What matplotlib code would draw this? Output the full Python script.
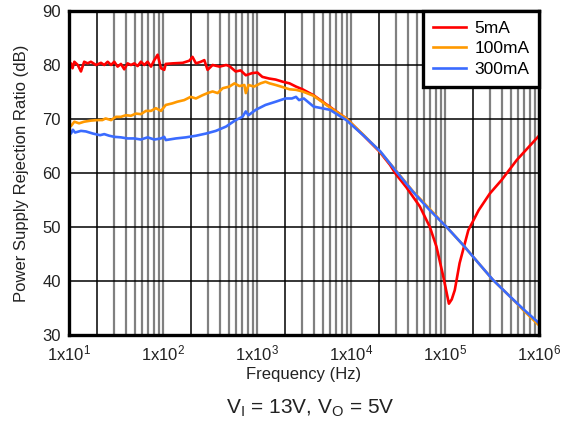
import numpy as np
import matplotlib
matplotlib.use('Agg')
import matplotlib.pyplot as plt

plt.rcParams['font.family'] = ['Liberation Sans', 'DejaVu Sans']
plt.rcParams['mathtext.default'] = 'regular'

# ---- data (frequency in Hz, PSRR in dB) ----
red_f = [10, 10.5, 10.9, 11.4, 12.4, 13.4, 14.5, 15.8, 17.1, 19.4,
         21.9, 23.7, 25.8, 28, 30.3, 32.9, 35.7, 38.7, 42, 45.6,
         49.5, 53.7, 58.2, 63.2, 68.6, 74.5, 80.8, 87.7, 95.2, 103,
         107, 126, 162, 191, 206, 224, 253, 275, 298, 337,
         400, 469, 508, 593, 670, 760, 890, 1010, 1140, 1340,
         1580, 1880, 2220, 2600, 3050, 4000, 5900, 8900, 13500, 20000,
         26000, 30000, 39000, 54000, 69000, 81000, 96000, 110000, 118000, 127000,
         143000, 177000, 228000, 300000, 400000, 580000, 1000000]
red_db = [80.2, 80.3, 79.4, 80.6, 80.0, 78.8, 80.6, 80.3, 80.6, 80.0,
          80.4, 80.0, 80.6, 80.0, 80.6, 79.7, 80.2, 79.2, 80.3, 80.0,
          80.3, 79.8, 80.6, 80.0, 80.6, 79.7, 80.9, 81.9, 79.4, 79.1,
          80.2, 80.3, 80.4, 80.8, 81.5, 80.3, 80.6, 80.9, 79.1, 80.0,
          79.7, 80.0, 79.8, 78.8, 79.0, 78.1, 78.5, 78.6, 77.8, 77.5,
          77.3, 76.9, 76.6, 76.0, 75.5, 74.4, 72.3, 70.1, 67.0, 64.0,
          61.5, 59.8, 57.3, 53.8, 50.0, 46.4, 40.8, 35.8, 36.6, 38.3,
          43.3, 49.4, 53.1, 56.2, 58.7, 62.4, 66.9]

orange_f = [10, 10.5, 11.4, 12.8, 14.5, 17.1, 20, 22.6, 24.5, 28,
            31.6, 35.7, 40.3, 45.6, 51.5, 58.2, 65.8, 74.5, 84, 95.2,
            107, 126, 142, 168, 197, 224, 263, 298, 337, 381,
            432, 508, 575, 650, 734, 760, 812, 930, 1090, 1230,
            1360, 1580, 1880, 2220, 2600, 3050, 4000, 5900, 8900, 13500,
            20000, 30600, 45700, 69000, 104000, 157000, 220000, 324000, 500000, 700000,
            1000000]
orange_db = [68.9, 68.7, 69.5, 69.2, 69.5, 69.7, 69.8, 69.8, 70.1, 69.8,
             70.4, 70.4, 70.7, 70.6, 71.0, 70.9, 71.5, 71.5, 72.0, 71.5,
             72.6, 72.9, 73.2, 73.5, 74.1, 73.8, 74.4, 74.8, 75.1, 74.8,
             75.7, 76.0, 76.6, 76.1, 76.3, 74.8, 76.3, 76.0, 76.6, 76.9,
             76.6, 76.3, 75.9, 75.5, 75.4, 75.1, 74.3, 72.2, 70.1, 67.1,
             64.1, 60.3, 56.6, 53.3, 50.0, 46.6, 43.6, 40.2, 37.0, 34.4,
             31.8]

blue_f = [10, 10.5, 11, 11.6, 13.4, 15.1, 18, 21.4, 23.7, 26.8,
          30.3, 35.7, 42, 49.5, 58.2, 68.6, 80.8, 95.2, 103, 107,
          137, 175, 224, 286, 365, 469, 593, 700, 760, 812,
          970, 1230, 1580, 2000, 2350, 2600, 2800, 3150, 4000, 5980,
          8900, 13500, 20500, 30600, 45700, 69000, 104000, 157000, 220000, 324000,
          500000, 700000, 1000000]
blue_db = [67.5, 67.3, 68.0, 67.5, 67.8, 67.7, 67.3, 67.0, 67.2, 66.9,
           66.7, 66.6, 66.4, 66.4, 66.2, 66.6, 66.2, 66.4, 66.7, 66.1,
           66.4, 66.6, 66.9, 67.3, 67.8, 68.6, 69.8, 70.4, 71.4, 70.7,
           71.7, 72.6, 73.2, 73.8, 73.8, 74.1, 73.5, 73.8, 72.3, 71.7,
           69.8, 67.0, 64.0, 60.2, 56.5, 53.1, 50.0, 46.6, 43.6, 40.2,
           37.0, 34.6, 32.2]

series_labels = ['5mA', '100mA', '300mA']
y_ticks = [30, 40, 50, 60, 70, 80, 90]
x_ticks = [1e1, 1e2, 1e3, 1e4, 1e5, 1e6]
x_ticklabels = ['1x10$^{%d}$' % k for k in range(1, 7)]

red = '#FF0000'
orange = '#FF9900'
blue = '#3A6BFF'

fig = plt.figure(figsize=(5.71, 4.21), dpi=100)
ax = fig.add_axes([69/571, 1-335/421, 470/571, 324/421])

# grid: black at 2x10^n, gray for the remaining minor positions (incl. decades)
for dec in [10, 100, 1000, 10000, 100000]:
    ax.axvline(2*dec, color='black', lw=1.1, zorder=1)
    for m in range(3, 11):
        ax.axvline(m*dec, color='#808080', lw=1.6, zorder=1)
for yv in y_ticks[1:-1]:
    ax.axhline(yv, color='black', lw=1.1, zorder=1)

ax.plot(red_f, red_db, color=red, lw=1.9, label=series_labels[0], zorder=3)
ax.plot(orange_f, orange_db, color=orange, lw=1.9, label=series_labels[1], zorder=3)
ax.plot(blue_f, blue_db, color=blue, lw=1.9, label=series_labels[2], zorder=3)

ax.set_xscale('log')
ax.set_xlim(10, 1e6)
ax.set_ylim(30, 90)
ax.set_xticks(x_ticks)
ax.set_xticklabels(x_ticklabels)
ax.xaxis.set_minor_locator(matplotlib.ticker.NullLocator())
ax.set_yticks(y_ticks)
ax.tick_params(axis='both', length=0, labelsize=12, colors='#222222')
ax.tick_params(axis='x', pad=6)
ax.tick_params(axis='y', pad=6)

for spine in ax.spines.values():
    spine.set_linewidth(2.4)
    spine.set_color('black')
    spine.set_zorder(5)

ax.set_ylabel('Power Supply Rejection Ratio (dB)', fontsize=12, color='#222222')
ax.yaxis.set_label_coords(-0.085, 0.5)
ax.set_xlabel('Frequency (Hz)', fontsize=12, color='#222222', labelpad=3)

leg = ax.legend(loc='upper right', borderaxespad=0, fancybox=False, framealpha=1,
                edgecolor='black', fontsize=12.5, handlelength=1.9, labelspacing=0.32,
                handletextpad=0.5, borderpad=0.55)
leg.get_frame().set_linewidth(2.4)
leg.set_zorder(6)

fig.text(310/571, 1-408/421, 'V$_I$ = 13V, V$_O$ = 5V', fontsize=15,
         ha='center', va='center', color='#222222')

plt.savefig('out.png', dpi=100)
